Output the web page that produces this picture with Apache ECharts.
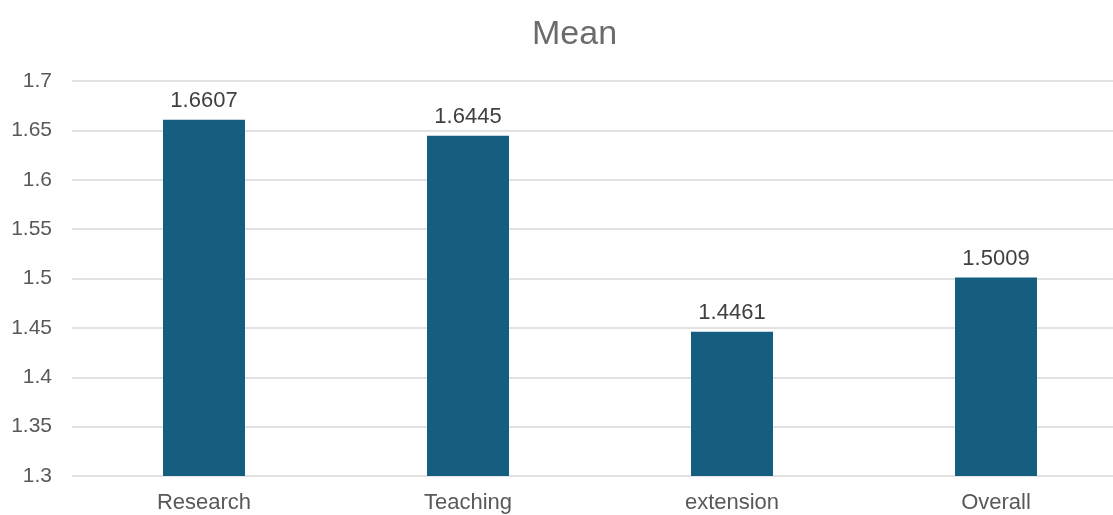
<!DOCTYPE html>
<html>
<head>
<meta charset="utf-8">
<script src="https://cdn.jsdelivr.net/npm/echarts@6/dist/echarts.min.js"></script>
<style>
  html, body { margin: 0; padding: 0; background: #fff; overflow: hidden; }
  /* canvas is a bit wider than the window: the plot area runs past the right edge, like the original */
  #chart1 { width: 1128px; height: 515px; }
</style>
</head>
<body>
<div id="chart1"></div>
<script>
var categories = ['Research', 'Teaching', 'extension', 'Overall'];
var meanValues = [1.6607, 1.6445, 1.4461, 1.5009];
var yTicks = { min: 1.3, max: 1.7, step: 0.05 };

var myChart = echarts.init(document.getElementById('chart1'));
var font = '"Liberation Sans", Arial, sans-serif';

myChart.setOption({
    animation: false,
    title: {
        text: 'Mean',
        left: 527,
        top: 13,
        textStyle: { fontFamily: font, fontSize: 34, fontWeight: 'normal', color: '#6b6b6b' }
    },
    grid: { left: 72, right: 0, top: 81, bottom: 39 },
    xAxis: {
        type: 'category',
        data: categories,
        axisLine: { show: false },
        axisTick: { show: false },
        axisLabel: { fontFamily: font, fontSize: 22, color: '#595959', margin: 16 }
    },
    yAxis: {
        type: 'value',
        min: yTicks.min,
        max: yTicks.max,
        interval: yTicks.step,
        axisLabel: {
            fontFamily: font, fontSize: 21, color: '#595959', margin: 20,
            formatter: function (v) { return String(+v.toFixed(2)); }
        },
        splitLine: { lineStyle: { color: '#d9d9d9', width: 1.5 } }
    },
    series: [{
        name: 'Mean',
        type: 'bar',
        data: meanValues,
        barWidth: 82,
        itemStyle: { color: '#165e80' },
        label: {
            show: true,
            position: 'top',
            distance: 8,
            fontFamily: font, fontSize: 22, color: '#404040',
            formatter: function (p) { return p.value.toFixed(4); }
        }
    }]
});
</script>
</body>
</html>
